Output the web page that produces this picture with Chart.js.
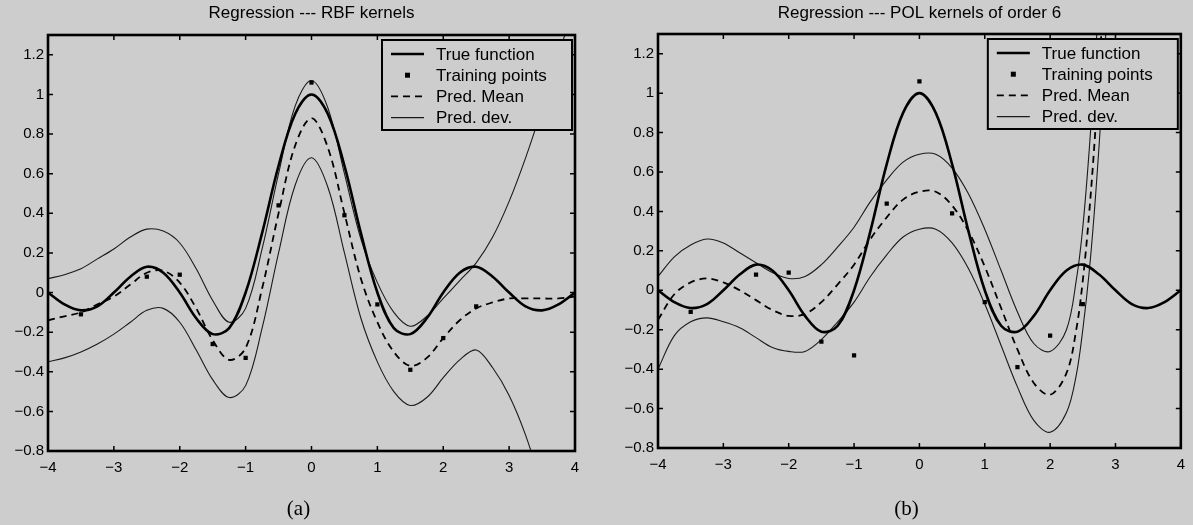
<!DOCTYPE html>
<html>
<head>
<meta charset="utf-8">
<script src="https://cdn.jsdelivr.net/npm/chart.js@4.4.0/dist/chart.umd.min.js"></script>
<style>
  body { margin: 0; background: #cdcdcd; width: 1193px; height: 525px; overflow: hidden; position: relative; }
  .panel { position: absolute; top: 0; height: 525px; }
  #panelA { left: 0; width: 600px; }
  #panelB { left: 600px; width: 593px; }
</style>
</head>
<body>
<div class="panel" id="panelA"><canvas id="chartA"></canvas></div>
<div class="panel" id="panelB"><canvas id="chartB"></canvas></div>
<script>
const BG = '#cdcdcd';
const SANS = '"Liberation Sans", Arial, Helvetica, sans-serif';

// axis ticks
const xTicks = [-4, -3, -2, -1, 0, 1, 2, 3, 4];
const xTickLabels = ['\u22124', '\u22123', '\u22122', '\u22121', '0', '1', '2', '3', '4'];
const yTicks = [-0.8, -0.6, -0.4, -0.2, 0, 0.2, 0.4, 0.6, 0.8, 1, 1.2];
const yTickLabels = ['\u22120.8', '\u22120.6', '\u22120.4', '\u22120.2', '0', '0.2', '0.4', '0.6', '0.8', '1', '1.2'];

const legendLabels = ['True function', 'Training points', 'Pred. Mean', 'Pred. dev.'];

// sample grid shared by the true function and the RBF curves
const gridX = [-4, -3.75, -3.5, -3.25, -3, -2.75, -2.5, -2.25, -2, -1.75, -1.5, -1.25, -1, -0.75, -0.5, -0.25,
  0, 0.25, 0.5, 0.75, 1, 1.25, 1.5, 1.75, 2, 2.25, 2.5, 2.75, 3, 3.25, 3.5, 3.75, 4];
const trueY = [0, -0.06, -0.09, -0.07, 0, 0.08, 0.13, 0.10, 0, -0.13, -0.21, -0.18, 0, 0.30, 0.64, 0.90,
  1.00, 0.90, 0.64, 0.30, 0, -0.18, -0.21, -0.13, 0, 0.10, 0.13, 0.08, 0, -0.07, -0.09, -0.06, 0];

// training data (same in both panels)
const trainX = [-3.5, -2.5, -2, -1.5, -1, -0.5, 0, 0.5, 1, 1.5, 2, 2.5];
const trainY = [-0.11, 0.08, 0.09, -0.26, -0.33, 0.44, 1.06, 0.39, -0.06, -0.39, -0.23, -0.07];

// (a) RBF kernels
const meanA = [-0.14, -0.12, -0.10, -0.06, -0.02, 0.04, 0.10, 0.11, 0.05, -0.08, -0.24, -0.34, -0.28, 0.02, 0.40, 0.74,
  0.88, 0.73, 0.40, 0.07, -0.15, -0.30, -0.37, -0.33, -0.23, -0.14, -0.08, -0.05, -0.03, -0.03, -0.03, -0.03, -0.02];
const upA = [0.07, 0.09, 0.12, 0.17, 0.22, 0.28, 0.32, 0.31, 0.25, 0.12, -0.04, -0.15, -0.08, 0.22, 0.60, 0.94,
  1.07, 0.93, 0.60, 0.27, 0.05, -0.10, -0.17, -0.12, -0.03, 0.06, 0.15, 0.28, 0.46, 0.68, 0.93, 1.20, 1.46];
const loA = [-0.35, -0.33, -0.30, -0.26, -0.21, -0.15, -0.09, -0.08, -0.15, -0.29, -0.44, -0.53, -0.47, -0.18, 0.20, 0.54,
  0.68, 0.53, 0.20, -0.13, -0.35, -0.50, -0.57, -0.53, -0.43, -0.34, -0.29, -0.38, -0.52, -0.72, -0.98, -1.25, -1.50];

// (b) polynomial kernels, the fit blows up past x = 2.5
const gridB = [-4, -3.75, -3.5, -3.25, -3, -2.75, -2.5, -2.25, -2, -1.75, -1.5, -1.25, -1, -0.75, -0.5, -0.25,
  0, 0.25, 0.5, 0.75, 1, 1.25, 1.5, 1.75, 2, 2.25, 2.4, 2.5, 2.6, 2.7, 2.8, 2.9];
const meanB = [-0.15, -0.02, 0.04, 0.06, 0.04, 0.0, -0.05, -0.10, -0.13, -0.12, -0.06, 0.03, 0.13, 0.26, 0.37, 0.46,
  0.50, 0.50, 0.43, 0.30, 0.12, -0.09, -0.30, -0.47, -0.53, -0.42, -0.20, 0.05, 0.40, 0.85, 1.40, 2.0];
const upB = [0.07, 0.17, 0.23, 0.26, 0.24, 0.19, 0.14, 0.09, 0.06, 0.07, 0.13, 0.22, 0.32, 0.45, 0.56, 0.65,
  0.69, 0.69, 0.62, 0.49, 0.31, 0.10, -0.11, -0.27, -0.31, -0.20, 0.05, 0.32, 0.72, 1.22, 1.8, 2.4];
const loB = [-0.40, -0.23, -0.16, -0.14, -0.16, -0.19, -0.24, -0.29, -0.31, -0.31, -0.25, -0.16, -0.06, 0.07, 0.18, 0.27,
  0.31, 0.31, 0.24, 0.11, -0.07, -0.28, -0.49, -0.66, -0.72, -0.62, -0.43, -0.20, 0.10, 0.50, 1.0, 1.6];

const pts = (xs, ys) => xs.map((x, i) => ({ x: x, y: ys[i] }));

function makeDatasets(xs, mean, up, lo) {
  const line = { pointRadius: 0, fill: false, tension: 0.35 };
  return [
    { ...line, label: legendLabels[0], data: pts(gridX, trueY), borderColor: '#000', borderWidth: 2.6 },
    { label: legendLabels[1], data: pts(trainX, trainY), showLine: false, pointStyle: 'rect',
      pointRadius: 3, backgroundColor: '#000', borderColor: '#000', borderWidth: 0 },
    { ...line, label: legendLabels[2], data: pts(xs, mean), borderColor: '#000', borderWidth: 1.8, borderDash: [7, 5] },
    { ...line, label: legendLabels[3], data: pts(xs, up), borderColor: '#1a1a1a', borderWidth: 1.1 },
    { ...line, label: legendLabels[3], data: pts(xs, lo), borderColor: '#1a1a1a', borderWidth: 1.1 }
  ];
}

// box, inward ticks, legend, title and caption in the old plotting style
const framePlugin = {
  id: 'matlabFrame',
  afterDatasetsDraw(chart, args, opts) {
    const { ctx, chartArea: a } = chart;
    const x = chart.scales.x, y = chart.scales.y;
    ctx.save();
    ctx.strokeStyle = '#000';
    ctx.lineWidth = 1.5;
    ctx.beginPath();
    xTicks.forEach(v => {
      const px = x.getPixelForValue(v);
      ctx.moveTo(px, a.bottom); ctx.lineTo(px, a.bottom - 5);
      ctx.moveTo(px, a.top); ctx.lineTo(px, a.top + 5);
    });
    yTicks.forEach(v => {
      const py = y.getPixelForValue(v);
      ctx.moveTo(a.left, py); ctx.lineTo(a.left + 5, py);
      ctx.moveTo(a.right, py); ctx.lineTo(a.right - 5, py);
    });
    ctx.stroke();

    ctx.lineWidth = 2.6;
    ctx.strokeRect(a.left, a.top, a.right - a.left, a.bottom - a.top);

    // legend
    const lw = 190, lh = 90;
    const bx = a.right - 3 - lw, by = a.top + 5;
    ctx.fillStyle = BG;
    ctx.fillRect(bx, by, lw, lh);
    ctx.lineWidth = 2;
    ctx.strokeRect(bx, by, lw, lh);
    ctx.font = '17px ' + SANS;
    ctx.textAlign = 'left';
    ctx.textBaseline = 'middle';
    legendLabels.forEach((label, i) => {
      const ds = chart.data.datasets[i];
      const ry = by + 14 + i * 21.2;
      const x0 = bx + 9, x1 = bx + 42;
      if (ds.showLine === false) {
        ctx.fillStyle = '#000';
        ctx.fillRect((x0 + x1) / 2 - 2.5, ry - 2.5, 5, 5);
      } else {
        ctx.strokeStyle = ds.borderColor;
        ctx.lineWidth = ds.borderWidth;
        ctx.setLineDash(ds.borderDash || []);
        ctx.beginPath();
        ctx.moveTo(x0, ry); ctx.lineTo(x1, ry);
        ctx.stroke();
        ctx.setLineDash([]);
      }
      ctx.fillStyle = '#000';
      ctx.fillText(label, bx + 54, ry + 1);
    });

    const cx = (a.left + a.right) / 2;
    ctx.textAlign = 'center';
    ctx.fillStyle = '#000';
    ctx.font = '17px ' + SANS;
    ctx.fillText(opts.title, cx, 13);
    ctx.font = '21px "Liberation Serif", "DejaVu Serif", serif';
    ctx.fillText(opts.caption, cx - 13, 509);
    ctx.restore();
  }
};

function makeChart(id, datasets, title, caption, yWidth, xHeight, pad) {
  const tickFont = { size: 15, family: SANS };
  return new Chart(document.getElementById(id), {
    type: 'line',
    data: { datasets: datasets },
    plugins: [framePlugin],
    options: {
      responsive: true,
      maintainAspectRatio: false,
      animation: false,
      layout: { padding: pad },
      plugins: {
        legend: { display: false },
        tooltip: { enabled: false },
        matlabFrame: { title: title, caption: caption }
      },
      scales: {
        x: {
          type: 'linear', min: -4, max: 4,
          afterBuildTicks: s => { s.ticks = xTicks.map(v => ({ value: v })); },
          afterFit: s => { s.height = xHeight; },
          grid: { display: false, drawTicks: false },
          border: { display: false },
          ticks: { padding: 8, color: '#000', font: tickFont, maxRotation: 0,
            callback: (v, i) => xTickLabels[i] }
        },
        y: {
          type: 'linear', min: -0.8, max: 1.3,
          afterBuildTicks: s => { s.ticks = yTicks.map(v => ({ value: v })); },
          afterFit: s => { s.width = yWidth; },
          grid: { display: false, drawTicks: false },
          border: { display: false },
          ticks: { padding: 4, color: '#000', font: tickFont,
            callback: (v, i) => yTickLabels[i] }
        }
      }
    }
  });
}

makeChart('chartA', makeDatasets(gridX, meanA, upA, loA), 'Regression --- RBF kernels', '(a)',
  48, 74, { top: 35, right: 25, left: 0, bottom: 0 });
makeChart('chartB', makeDatasets(gridB, meanB, upB, loB), 'Regression --- POL kernels of order 6', '(b)',
  58, 77, { top: 34, right: 8, left: 0, bottom: 0 });
</script>
</body>
</html>
